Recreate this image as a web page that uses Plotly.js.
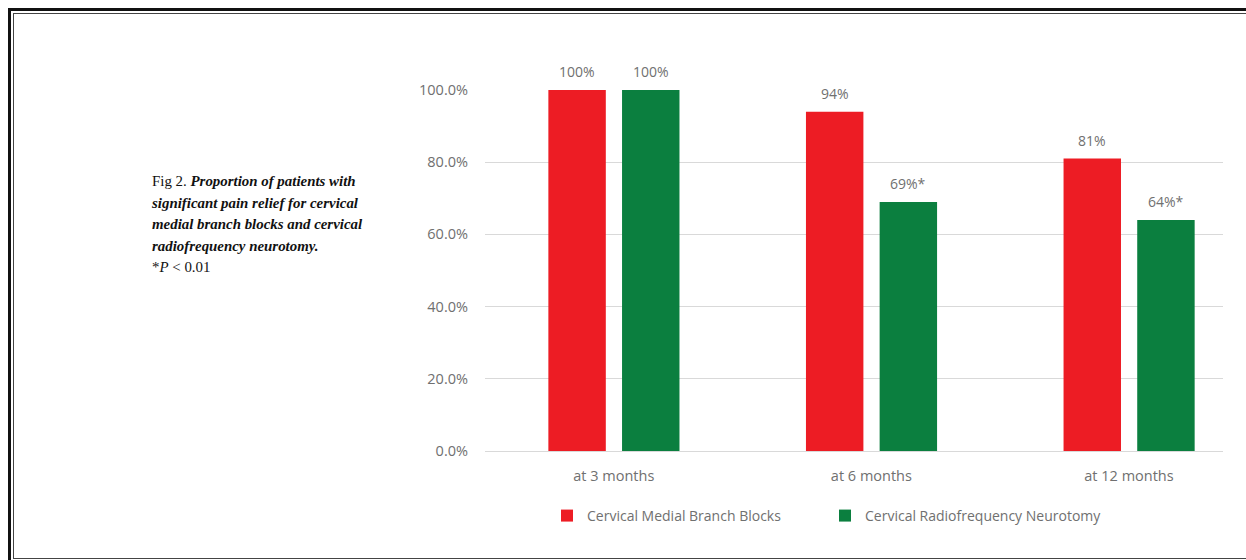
<!DOCTYPE html>
<html>
<head>
<meta charset="utf-8">
<script src="https://cdn.plot.ly/plotly-3.0.1.min.js"></script>
<style>
  html, body { margin: 0; padding: 0; background: #fff; overflow: hidden; }
  #wrap { position: relative; width: 1246px; height: 560px; overflow: hidden; }
  #chart { position: absolute; left: 0; top: 0; width: 1246px; height: 560px; }
  .frame-outer { position: absolute; left: 8px; top: 8px; width: 1300px; height: 600px;
                 border: 3px solid #111; box-sizing: border-box; pointer-events: none; }
  .frame-inner { position: absolute; left: 13px; top: 13px; width: 1300px; height: 546px;
                 border: 1.5px solid #444; box-sizing: border-box; pointer-events: none; }
  #caption { position: absolute; left: 152px; top: 171px; width: 230px;
             font-family: "Liberation Serif", serif; font-size: 14.9px; line-height: 21.5px;
             color: #111; white-space: nowrap; }
  #caption b { font-weight: bold; font-style: italic; }
</style>
</head>
<body>
<div id="wrap">
  <div id="chart"></div>
  <div class="frame-outer"></div>
  <div class="frame-inner"></div>
  <div id="caption">
    Fig 2. <b>Proportion of patients with</b><br>
    <b>significant pain relief for cervical</b><br>
    <b>medial branch blocks and cervical</b><br>
    <b>radiofrequency neurotomy.</b><br>
    *<i>P</i> &lt; 0.01
  </div>
</div>
<script>
const categories = ["at 3 months", "at 6 months", "at 12 months"];
const seriesNames = ["Cervical Medial Branch Blocks", "Cervical Radiofrequency Neurotomy"];
const mbbValues = [100, 94, 81];
const rfnValues = [100, 69, 64];
const mbbLabels = ["100%", "94%", "81%"];
const rfnLabels = ["100%", "69%*", "64%*"];
const yTicks = [0, 20, 40, 60, 80, 100];
const yTickText = ["0.0%", "20.0%", "40.0%", "60.0%", "80.0%", "100.0%"];

const RED = "#ED1C24";
const GREEN = "#0B7F3F";
const TXT = "#707070";
const FONT = "Open Sans, sans-serif";

const barWidth = 0.223;
const redOffset = -0.254;
const greenOffset = 0.032;

const xIdx = categories.map((c, i) => i);

const traces = [
  { type: "bar", name: seriesNames[0], x: xIdx, y: mbbValues,
    width: barWidth, offset: redOffset, marker: { color: RED }, hoverinfo: "none" },
  { type: "bar", name: seriesNames[1], x: xIdx, y: rfnValues,
    width: barWidth, offset: greenOffset, marker: { color: GREEN }, hoverinfo: "none" }
];

const annotations = [];
function addLabels(vals, labels, off) {
  vals.forEach((v, i) => {
    annotations.push({ x: i + off + barWidth / 2, y: v, xref: "x", yref: "y",
      text: labels[i], showarrow: false, yanchor: "bottom", yshift: 7,
      font: { family: FONT, size: 14, color: TXT } });
  });
}
addLabels(mbbValues, mbbLabels, redOffset);
addLabels(rfnValues, rfnLabels, greenOffset);

const layout = {
  width: 1246, height: 560,
  margin: { l: 485, r: 23, t: 90, b: 109, pad: 0 },
  paper_bgcolor: "rgba(0,0,0,0)", plot_bgcolor: "rgba(0,0,0,0)",
  barmode: "overlay",
  showlegend: true,
  legend: { orientation: "h", x: 0.084, xanchor: "left", y: -0.18, yanchor: "middle",
            font: { family: FONT, size: 14, color: TXT }, entrywidth: 233, entrywidthmode: "pixels",
            bgcolor: "rgba(0,0,0,0)", itemwidth: 30, traceorder: "normal" },
  xaxis: { range: [-0.5, 2.365], tickvals: xIdx, ticktext: categories,
           showgrid: false, zeroline: false, showline: true, linecolor: "#d9d9d9", linewidth: 1,
           ticks: "", ticklabelstandoff: 12,
           tickfont: { family: FONT, size: 14.5, color: TXT }, fixedrange: true },
  yaxis: { range: [0, 100], tickmode: "array", tickvals: yTicks, ticktext: yTickText,
           showgrid: true, gridcolor: "#d9d9d9", gridwidth: 1, zeroline: false,
           showline: false, ticks: "", ticklabelstandoff: 16,
           tickfont: { family: FONT, size: 14.5, color: TXT }, fixedrange: true },
  annotations: annotations
};

Plotly.newPlot("chart", traces, layout, { staticPlot: true, displayModeBar: false });
</script>
</body>
</html>
